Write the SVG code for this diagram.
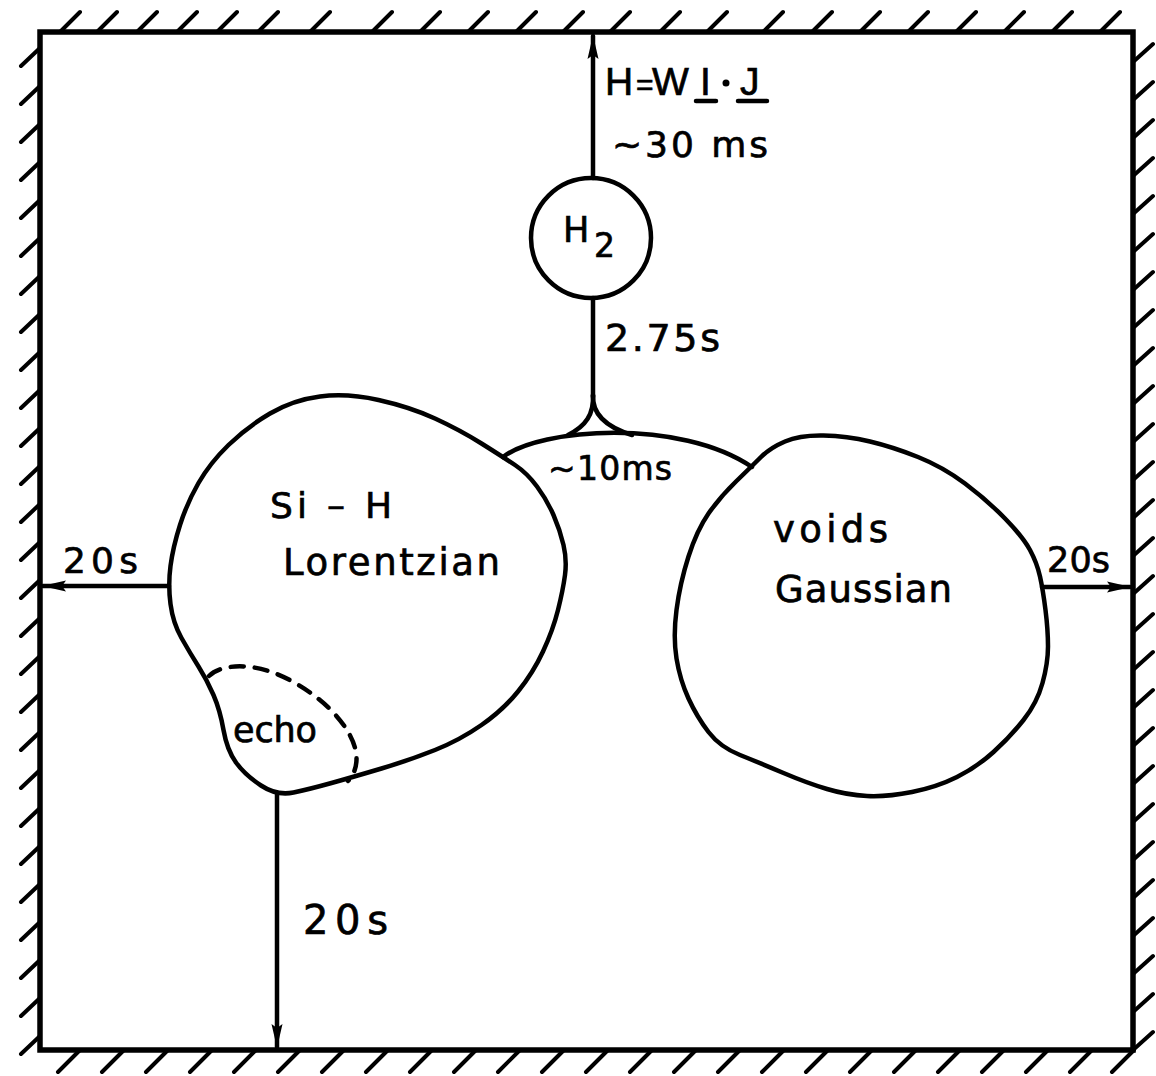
<svg xmlns="http://www.w3.org/2000/svg" width="1156" height="1076" viewBox="0 0 1156 1076">
  <style>
    .ln { fill: none; stroke: #000; stroke-width: 4.5; stroke-linecap: round; stroke-linejoin: round; }
    .wall { fill: none; stroke: #000; stroke-width: 5.5; stroke-linejoin: miter; }
    .hatch { fill: none; stroke: #000; stroke-width: 4; stroke-linecap: round; }
    .dash { fill: none; stroke: #000; stroke-width: 4.5; stroke-linecap: round; stroke-dasharray: 13 11; }
    .t { font-family: "DejaVu Sans", "Liberation Sans", sans-serif; fill: #000; stroke: #000; stroke-width: 0.7; }
    .ta { font-family: "Liberation Sans", Arial, sans-serif; fill: #000; stroke: #000; stroke-width: 0.7; }
  </style>
  <defs>
    <marker id="arrow" viewBox="0 0 24 12" markerWidth="24" markerHeight="12" refX="23" refY="6" orient="auto" markerUnits="userSpaceOnUse">
      <path d="M0,0.5 L24,6 L0,11.5 L4,6 Z" fill="#000"/>
    </marker>
  </defs>
  <rect width="1156" height="1076" fill="#fff"/>

  <!-- enclosing wall with hatching -->
  <g id="wall">
    <rect class="wall" x="40" y="32" width="1093" height="1018"/>
    <path class="hatch" d="
      M60,32 l20,-20 M97,32 l20,-20 M137,32 l20,-20 M177,32 l20,-20 M217,32 l20,-20 M258,32 l20,-20
      M310,32 l20,-20 M372,32 l20,-20 M420,32 l20,-20 M468,32 l20,-20 M516,32 l20,-20 M563,32 l20,-20
      M610,32 l20,-20 M660,32 l20,-20 M707,32 l20,-20 M763,32 l20,-20 M812,32 l20,-20 M860,32 l20,-20
      M908,32 l20,-20 M956,32 l20,-20 M1004,32 l20,-20 M1052,32 l20,-20 M1100,32 l20,-20
      M40,48 l-19,18 M40,86 l-19,18 M40,124 l-19,18 M40,162 l-19,18 M40,200 l-19,18 M40,238 l-19,18
      M40,276 l-19,18 M40,314 l-19,18 M40,352 l-19,18 M40,390 l-19,18 M40,428 l-19,18 M40,466 l-19,18
      M40,504 l-19,18 M40,542 l-19,18 M40,580 l-19,18 M40,618 l-19,18 M40,656 l-19,18 M40,694 l-19,18
      M40,732 l-19,18 M40,770 l-19,18 M40,808 l-19,18 M40,846 l-19,18 M40,884 l-19,18 M40,922 l-19,18
      M40,960 l-19,18 M40,998 l-19,18 M40,1036 l-19,18
      M80,1050 l-22,22 M124,1050 l-22,22 M168,1050 l-22,22 M212,1050 l-22,22 M256,1050 l-22,22
      M300,1050 l-22,22 M344,1050 l-22,22 M388,1050 l-22,22 M432,1050 l-22,22 M476,1050 l-22,22
      M520,1050 l-22,22 M564,1050 l-22,22 M608,1050 l-22,22 M652,1050 l-22,22 M696,1050 l-22,22
      M740,1050 l-22,22 M784,1050 l-22,22 M828,1050 l-22,22 M872,1050 l-22,22 M916,1050 l-22,22
      M960,1050 l-22,22 M1004,1050 l-22,22 M1048,1050 l-22,22 M1092,1050 l-22,22 M1134,1050 l-22,22
      M1133,62 l20,-18 M1133,100 l20,-18 M1133,138 l20,-18 M1133,176 l20,-18 M1133,214 l20,-18
      M1133,252 l20,-18 M1133,290 l20,-18 M1133,328 l20,-18 M1133,366 l20,-18 M1133,404 l20,-18
      M1133,442 l20,-18 M1133,480 l20,-18 M1133,518 l20,-18 M1133,556 l20,-18 M1133,594 l20,-18
      M1133,632 l20,-18 M1133,670 l20,-18 M1133,708 l20,-18 M1133,746 l20,-18 M1133,784 l20,-18
      M1133,822 l20,-18 M1133,860 l20,-18 M1133,898 l20,-18 M1133,936 l20,-18 M1133,974 l20,-18
      M1133,1012 l20,-18 M1133,1050 l20,-18"/>
  </g>

  <!-- connectors -->
  <g id="connectors">
    <path class="ln" d="M593,178 L593,36" marker-end="url(#arrow)"/>
    <path class="ln" d="M593,298 L593,397"/>
    <path class="ln" d="M593,395 C594,414 586,426 568,435"/>
    <path class="ln" d="M593,395 C592,414 606,427 632,435"/>
    <path class="ln" d="M503,457 C540,428 680,418 752,467"/>
    <path class="ln" d="M169,586 L43,586" marker-end="url(#arrow)"/>
    <path class="ln" d="M1042,587 L1130,587" marker-end="url(#arrow)"/>
    <path class="ln" d="M277,793 L277,1047" marker-end="url(#arrow)"/>
  </g>

  <!-- hydrogen molecule -->
  <g id="h2">
    <circle class="ln" cx="591" cy="238" r="60"/>
    <text class="t" x="563" y="242" font-size="35">H</text>
    <text class="t" x="594" y="257" font-size="33">2</text>
  </g>

  <!-- Si-H reservoir with echo region -->
  <g id="sih">
    <path class="ln" d="M378.5,400 Q347,393 320,396.5 Q293,400 270,413.5 Q247,427 228.5,445 Q210,463 198.5,483
      Q187,503 180,525 Q173,547 170.5,566 Q168,585 170.5,604 Q173,623 181.5,638 Q190,653 198.5,666.5
      Q207,680 213.5,695 Q220,710 223.5,730 Q227,750 236,762.5 Q245,775 261,785.5 Q277,796 293.5,792.5
      Q310,789 331.5,783 Q353,777 381.5,768.5 Q410,760 435,750 Q460,740 481.5,725 Q503,710 518,691.5
      Q533,673 543,651.5 Q553,630 558,610 Q563,590 565,575 Q567,560 563.5,545 Q560,530 553.5,515
      Q547,500 537,486.5 Q527,473 515,465 Q503,457 481.5,443.5 Q460,430 435,418.5 Q410,407 378.5,400 Z"/>
    <path class="dash" d="M209,676 C222,663 258,661 295,683 C330,703 352,730 356,752 C358,765 354,775 348,781"/>
    <text class="t" x="270" y="518" font-size="36" textLength="122" lengthAdjust="spacing">Si – H</text>
    <text class="t" x="283" y="575" font-size="37" textLength="217" lengthAdjust="spacing">Lorentzian</text>
    <text class="t" x="233" y="742" font-size="35" textLength="84" lengthAdjust="spacing">echo</text>
  </g>

  <!-- voids reservoir -->
  <g id="voids">
    <path class="ln" d="M736,481.5 Q752,466 761,457 Q770,448 785,441.5 Q800,435 823.5,435.5 Q847,436 870,441.5
      Q893,447 918,457 Q943,467 965,483.5 Q987,500 1005,518.5 Q1023,537 1030,550 Q1037,563 1040,576.5
      Q1043,590 1045.5,610 Q1048,630 1048,646.5 Q1048,663 1042.5,683 Q1037,703 1023.5,720 Q1010,737 993.5,752
      Q977,767 957,777 Q937,787 912,792 Q887,797 867,796 Q847,795 827,789 Q807,783 783.5,773
      Q760,763 740,755 Q720,747 708.5,732 Q697,717 688.5,698.5 Q680,680 676.5,658.5 Q673,637 676.5,610
      Q680,583 688.5,556.5 Q697,530 708.5,513.5 Q720,497 736,481.5 Z"/>
    <text class="t" x="773" y="542" font-size="37" textLength="115" lengthAdjust="spacing">voids</text>
    <text class="t" x="775" y="602" font-size="37" textLength="177" lengthAdjust="spacing">Gaussian</text>
  </g>

  <!-- labels -->
  <g id="labels">
    <text class="ta" y="95" font-size="39"><tspan x="605">H</tspan><tspan x="636" font-size="30">=</tspan><tspan x="652">W</tspan><tspan x="700">I</tspan><tspan x="740">J</tspan></text>
    <circle cx="726" cy="83" r="3.5" fill="#000"/>
    <path class="ln" d="M696,101 L716,101 M738,101 L767,101" stroke-width="3.5"/>
    <text class="t" x="612" y="157" font-size="36" textLength="156" lengthAdjust="spacing">~30 ms</text>
    <text class="t" x="605" y="351" font-size="38" textLength="115" lengthAdjust="spacing">2.75s</text>
    <text class="t" x="548" y="480" font-size="33" textLength="124" lengthAdjust="spacing">~10ms</text>
    <text class="t" x="63" y="573" font-size="36" textLength="75" lengthAdjust="spacing">20s</text>
    <text class="t" x="1047" y="572" font-size="35" textLength="63" lengthAdjust="spacing">20s</text>
    <text class="t" x="303" y="934" font-size="40" textLength="85" lengthAdjust="spacing">20s</text>
  </g>
</svg>
